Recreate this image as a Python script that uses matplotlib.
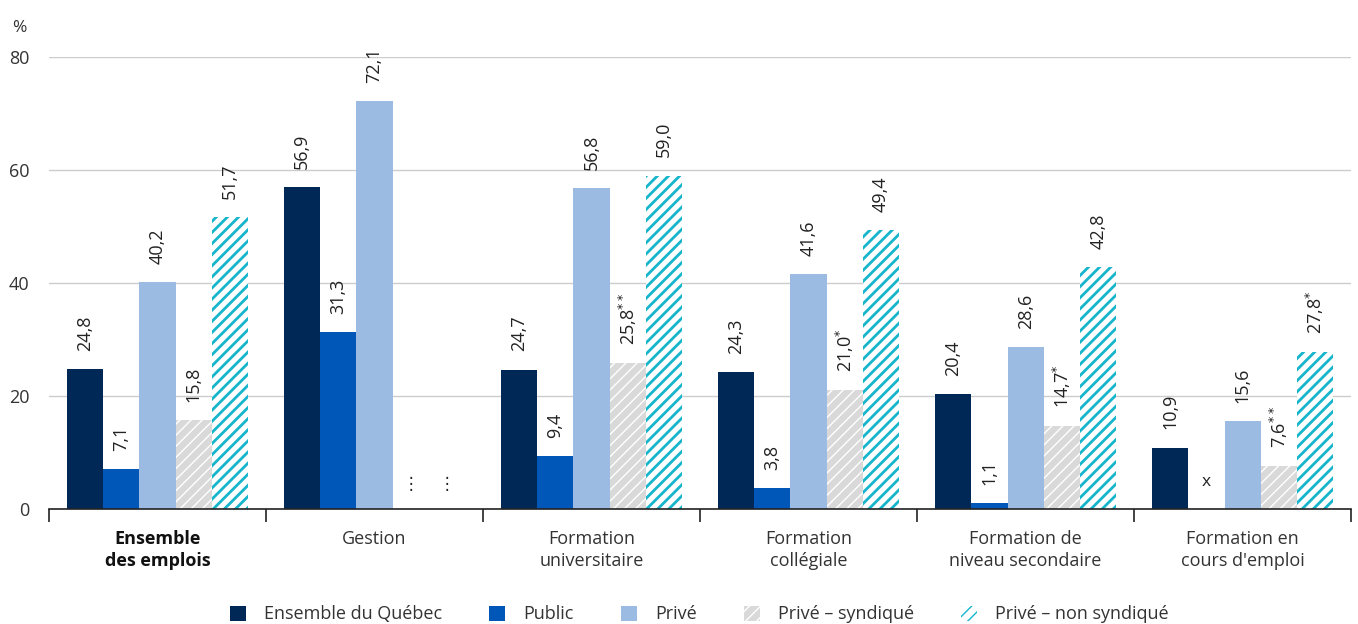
import matplotlib.pyplot as plt
import numpy as np
from matplotlib.patches import Patch

plt.rcParams['font.family'] = ['Open Sans', 'DejaVu Sans']

categories = ['Ensemble\ndes emplois', 'Gestion', 'Formation\nuniversitaire',
              'Formation\ncollégiale', 'Formation de\nniveau secondaire',
              "Formation en\ncours d'emploi"]
series_names = ['Ensemble du Québec', 'Public', 'Privé', 'Privé – syndiqué', 'Privé – non syndiqué']

ensemble = [24.8, 56.9, 24.7, 24.3, 20.4, 10.9]
public = [7.1, 31.3, 9.4, 3.8, 1.1, None]
prive = [40.2, 72.1, 56.8, 41.6, 28.6, 15.6]
syndique = [15.8, None, 25.8, 21.0, 14.7, 7.6]
non_syndique = [51.7, None, 59.0, 49.4, 42.8, 27.8]

# quality flags (exponents)
flags_syndique = ['', '', '**', '*', '*', '**']
flags_non_syndique = ['', '', '', '', '', '*']
flags_none = [''] * 6

# missing-value markers
missing_public = ['', '', '', '', '', 'x']
missing_syndique = ['', '⋮', '', '', '', '']
missing_non_syndique = ['', '⋮', '', '', '', '']

text_col = '#333333'
styles = [
    dict(facecolor='#002856', edgecolor='#002856', hatch=None, hlw=1.0),
    dict(facecolor='#0057b8', edgecolor='#0057b8', hatch=None, hlw=1.0),
    dict(facecolor='#9bbbe3', edgecolor='#9bbbe3', hatch=None, hlw=1.0),
    dict(facecolor='#d9d9d9', edgecolor='white', hatch='///', hlw=1.0),
    dict(facecolor='white', edgecolor='#16b5cc', hatch='///', hlw=2.0),
]
all_series = [ensemble, public, prive, syndique, non_syndique]
all_flags = [flags_none, flags_none, flags_none, flags_syndique, flags_non_syndique]
all_missing = [flags_none, missing_public, flags_none, missing_syndique, missing_non_syndique]

fig = plt.figure(figsize=(13.58, 6.24), dpi=100)
ax = fig.add_axes([0.036, 0.184, 0.959, 0.725])

x = np.arange(len(categories))
width = 0.167
offsets = (np.arange(5) - 2) * width

for vals, st, flags, miss, off in zip(all_series, styles, all_flags, all_missing, offsets):
    h = [v if v is not None else 0 for v in vals]
    with plt.rc_context({'hatch.linewidth': st['hlw']}):
        ax.bar(x + off, h, width=width, facecolor=st['facecolor'],
               edgecolor=st['edgecolor'], hatch=st['hatch'], linewidth=0, zorder=3)
    for i, v in enumerate(vals):
        if v is None:
            m = miss[i]
            if m == 'x':
                ax.annotate('x', (x[i] + off, 0), xytext=(0, 14), textcoords='offset points',
                            ha='center', va='bottom', fontsize=12.5, color='#222222')
            elif m:
                ax.annotate(m, (x[i] + off, 0), xytext=(0, 12), textcoords='offset points',
                            ha='center', va='bottom', fontsize=12, color='#222222',
                            family='DejaVu Sans')
            continue
        label = f'{v:.1f}'.replace('.', ',')
        if flags[i]:
            label += '$^{' + flags[i] + '}$'
        ax.annotate(label, (x[i] + off, v), xytext=(0, 13), textcoords='offset points',
                    ha='center', va='bottom', rotation=90, fontsize=13, color='#222222')

ax.set_xlim(-0.5, len(categories) - 0.5)
ax.set_ylim(0, 80)
ax.set_yticks([0, 20, 40, 60, 80])
ax.tick_params(axis='y', length=0, labelsize=13, labelcolor=text_col, pad=14)
ax.yaxis.grid(True, color='#cccccc', linewidth=1, zorder=0)
ax.set_axisbelow(True)

# group separators as ticks, labels as minor ticks
ax.set_xticks(np.arange(len(categories) + 1) - 0.5)
ax.set_xticklabels([])
ax.tick_params(axis='x', which='major', length=9, width=1.2, color='#222222', direction='out')
ax.set_xticks(x, minor=True)
ax.set_xticklabels(categories, minor=True, fontsize=13, color=text_col, linespacing=1.3)
ax.tick_params(axis='x', which='minor', length=0, pad=15)
ax.get_xticklabels(minor=True)[0].set_fontweight('bold')
ax.get_xticklabels(minor=True)[0].set_color('#111111')

for s in ['top', 'right', 'left']:
    ax.spines[s].set_visible(False)
ax.spines['bottom'].set_color('#222222')
ax.spines['bottom'].set_linewidth(1.2)
ax.spines['bottom'].set_zorder(4)

fig.text(0.009, 0.955, '%', fontsize=12.5, color=text_col, ha='left', va='center')

handles = []
for st, name in zip(styles, series_names):
    with plt.rc_context({'hatch.linewidth': st['hlw']}):
        handles.append(Patch(facecolor=st['facecolor'], edgecolor=st['edgecolor'],
                             hatch=st['hatch'], linewidth=0, label=name))
fig.legend(handles=handles, loc='lower center', bbox_to_anchor=(0.515, -0.025), ncol=5,
           frameon=False, fontsize=13, handlelength=0.9, handleheight=0.9,
           columnspacing=2.6, handletextpad=1.0, labelcolor=text_col)

fig.savefig('out.png', dpi=100)
